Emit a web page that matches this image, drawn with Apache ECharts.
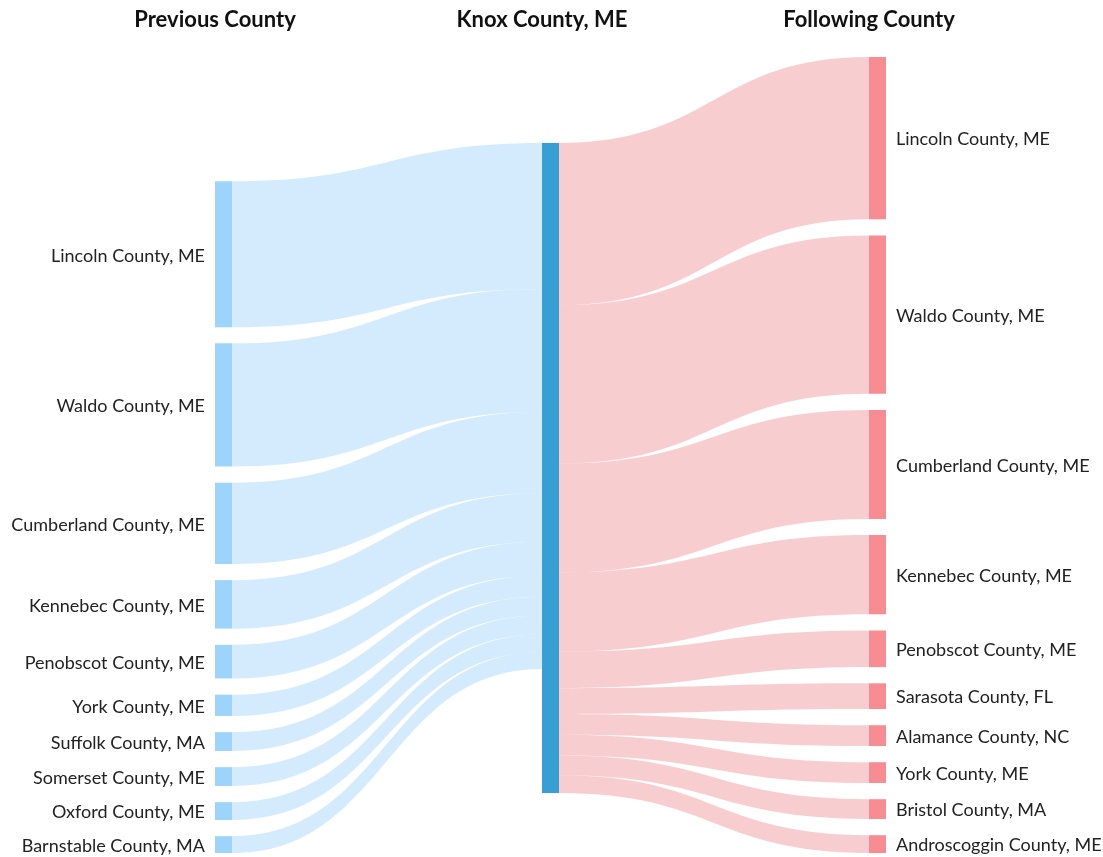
<!DOCTYPE html>
<html>
<head>
<meta charset="utf-8">
<script src="https://cdn.jsdelivr.net/npm/echarts@6/dist/echarts.min.js"></script>
<style>
  html, body { margin: 0; padding: 0; background: #ffffff; }
  #chart { width: 1103px; height: 857px; }
</style>
</head>
<body>
<div id="chart"></div>
<script>
// ---- Data ----
const columnTitles = ['Previous County', 'Knox County, ME', 'Following County'];
const centerName = 'Knox County, ME';

const prevNames = [
  'Lincoln County, ME', 'Waldo County, ME', 'Cumberland County, ME', 'Kennebec County, ME',
  'Penobscot County, ME', 'York County, ME', 'Suffolk County, MA', 'Somerset County, ME',
  'Oxford County, ME', 'Barnstable County, MA'
];
const prevValues = [147.5, 124.5, 82, 49, 34, 21.5, 19, 19, 18, 17];

const nextNames = [
  'Lincoln County, ME', 'Waldo County, ME', 'Cumberland County, ME', 'Kennebec County, ME',
  'Penobscot County, ME', 'Sarasota County, FL', 'Alamance County, NC', 'York County, ME',
  'Bristol County, MA', 'Androscoggin County, ME'
];
const nextValues = [164, 160, 110, 80, 37, 26, 21, 21, 20, 18];

// ---- Styles ----
const COL = {
  prevNode: '#9cd4fb',
  prevLink: '#a7d7f9',
  center: '#379fd3',
  nextNode: '#f78d93',
  nextLink: '#f19ba1'
};
const FONT = 'Lato, "Noto Sans", sans-serif';

const LEFT = 215, RIGHT = 217, TOP = 57, BOTTOM = 4, NODE_W = 17;

const nodes = [];
const links = [];
prevNames.forEach(function (n, i) {
  nodes.push({
    name: 'P|' + n,
    itemStyle: { color: COL.prevNode },
    label: { position: 'left' }
  });
  links.push({ source: 'P|' + n, target: 'C|' + centerName, value: prevValues[i],
    lineStyle: { color: COL.prevLink } });
});
nodes.push({ name: 'C|' + centerName, itemStyle: { color: COL.center }, label: { show: false } });
nextNames.forEach(function (n, i) {
  nodes.push({
    name: 'N|' + n,
    itemStyle: { color: COL.nextNode },
    label: { position: 'right' }
  });
  links.push({ source: 'C|' + centerName, target: 'N|' + n, value: nextValues[i],
    lineStyle: { color: COL.nextLink } });
});

const chart = echarts.init(document.getElementById('chart'), null, { renderer: 'canvas' });
const innerW = 1103 - LEFT - RIGHT;
const colX = [0, 1, 2].map(function (k) { return LEFT + k * (innerW - NODE_W) / 2; });

chart.setOption({
  backgroundColor: '#ffffff',
  animation: false,
  graphic: columnTitles.map(function (t, k) {
    return {
      type: 'text',
      x: colX[k],
      y: 20,
      style: {
        text: t,
        fill: '#111111',
        font: 'bold 22px ' + FONT,
        textAlign: 'center',
        textVerticalAlign: 'middle'
      }
    };
  }),
  series: [{
    type: 'sankey',
    left: LEFT,
    right: RIGHT,
    top: TOP,
    bottom: BOTTOM,
    nodeWidth: NODE_W,
    nodeGap: 16.2,
    draggable: false,
    emphasis: { disabled: true },
    data: nodes,
    links: links,
    itemStyle: { borderWidth: 0 },
    lineStyle: { opacity: 0.5, curveness: 0.5 },
    label: {
      color: '#222222',
      fontFamily: FONT,
      fontSize: 18,
      distance: 10,
      offset: [0, 1.5],
      formatter: function (p) { return p.name.split('|')[1]; }
    }
  }]
});
</script>
</body>
</html>
